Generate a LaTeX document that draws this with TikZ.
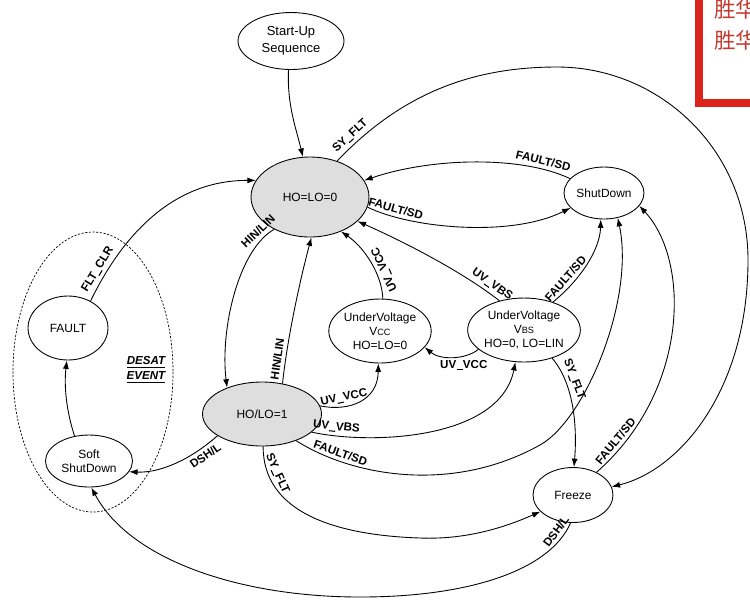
\documentclass[tikz,border=0pt]{standalone}
\usepackage{fontspec}
\setmainfont{Liberation Sans}
\newfontfamily\cjk{Noto Sans CJK SC}
\usetikzlibrary{shapes.geometric,arrows.meta}
\definecolor{boxred}{RGB}{221,36,28}
\definecolor{cjkred}{RGB}{196,58,48}
\newcommand{\smc}[1]{{\fontsize{5.2}{6}\selectfont #1}}
\newcommand{\us}{\kern0.15pt\rule[-1pt]{3.5pt}{0.6pt}\kern0.15pt}

\begin{document}
\begin{tikzpicture}[x=0.02cm,y=-0.02cm,
    etat/.style={ellipse,draw,line width=0.5pt,inner sep=0pt,align=center,font=\fontsize{6.8}{7.9}\selectfont},
    actif/.style={etat,fill=black!13},
    lab/.style={font=\bfseries\fontsize{6.6}{7.9}\selectfont,inner sep=2pt},
    fl/.style={line width=0.5pt,-{Latex[length=4.8pt,width=3.4pt]}}]
  \useasboundingbox (0,0) rectangle (750,600);
  %\draw[help lines,step=50] (0,0) grid (750,600);
  \node[etat,minimum width=2.12cm,minimum height=1.14cm,font=\fontsize{7.4}{9.4}\selectfont] (start) at (291,41) {Start-Up\\Sequence};
  \node[actif,minimum width=2.36cm,minimum height=1.6cm] (hll0) at (310,197) {HO=LO=0};
  \node[etat,minimum width=1.6cm,minimum height=1.04cm] (shut) at (604,193) {ShutDown};
  \node[etat,minimum width=1.6cm,minimum height=1.28cm] (fault) at (68,328) {FAULT};
  \node[etat,minimum width=2cm,minimum height=1.28cm] (uvcc) at (380,331) {UnderVoltage\\V\smc{CC}\\HO=LO=0};
  \node[etat,minimum width=2.16cm,minimum height=1.28cm] (uvbs) at (524,330) {UnderVoltage\\V\smc{BS}\\HO=0, LO=LIN};
  \node[actif,minimum width=2.38cm,minimum height=1.28cm] (holo1) at (262,414) {HO/LO=1};
  \node[etat,minimum width=1.74cm,minimum height=1.04cm] (soft) at (89,461) {Soft\\ShutDown};
  \node[etat,minimum width=1.6cm,minimum height=1.1cm] (freeze) at (573,495) {Freeze};
  % desat
  \draw[dash pattern=on 1.2pt off 0.9pt,line width=0.4pt] (93,372) ellipse [x radius=80,y radius=140];
  \node[lab,font=\bfseries\itshape\fontsize{6.6}{8.5}\selectfont,align=center] (desat) at (146,370) {\underline{DESAT}\\\underline{EVENT}};
  % transitions
  \draw[fl] (start.265) .. controls (287,105) and (296,128) .. (hll0.100);
  \draw[fl] (hll0.222) .. controls (238,250) and (220,330) .. (holo1.143) node[lab,pos=0.1,sloped,above] {HIN/LIN};
  \draw[fl] (holo1.56) .. controls (287,340) and (300,280) .. (hll0.-88) node[lab,pos=0.17,sloped,above] {HIN/LIN};
  \draw[fl] (hll0.-10) .. controls (410,228) and (510,238) .. (shut.204) node[lab,pos=0.17,sloped,above] {FAULT/SD};
  \draw[fl] (shut.157) .. controls (520,155) and (430,158) .. (hll0.17) node[lab,pos=0.17,sloped,above] {FAULT/SD};
  \draw[fl] (uvbs.130) .. controls (460,270) and (400,240) .. (hll0.-27) node[lab,pos=0.1,sloped,above] {UV\us VBS};
  \draw[fl] (uvcc.85) .. controls (382,275) and (365,248) .. (hll0.-48) node[lab,pos=0.35,sloped,allow upside down,below] {UV\us VCC};
  \draw[fl] (uvbs.203) .. controls (465,360) and (440,360) .. (uvcc.-20) node[lab,pos=0.3,below] {UV\us VCC};
  \draw[fl] (holo1.8) .. controls (350,412) and (378,400) .. (uvcc.-93) node[lab,pos=0.3,sloped,above] {UV\us VCC};
  \draw[fl] (holo1.-20) .. controls (370,445) and (500,440) .. (uvbs.-105) node[lab,pos=0.12,sloped,above] {UV\us VBS};
  \draw[fl] (holo1.-38) .. controls (350,475) and (450,495) .. (540,445) node[lab,pos=0.22,sloped,above] {FAULT/SD}
    .. controls (585,420) and (635,300) .. (shut.-61);
  \draw[fl] (uvbs.44) .. controls (580,280) and (600,250) .. (shut.-97) node[lab,pos=0.25,sloped,above] {FAULT/SD};
  \draw[fl] (freeze.44) .. controls (690,390) and (690,260) .. (shut.-20) node[lab,pos=0.1,sloped,above] {FAULT/SD};
  \draw[fl] (hll0.53) .. controls (400,95) and (470,67) .. (557,67) node[lab,pos=0.1,sloped,above] {SY\us FLT}
    .. controls (660,67) and (748,150) .. (748,260) .. controls (748,390) and (680,470) .. (freeze.12);
  \draw[fl] (uvbs.-45) .. controls (575,385) and (577,430) .. (freeze.88) node[lab,pos=0.26,sloped,above] {SY\us FLT};
  \draw[fl] (holo1.-88) .. controls (263,510) and (330,535) .. (420,538) node[lab,pos=0.18,sloped,above] {SY\us FLT}
    .. controls (470,540) and (510,525) .. (freeze.207);
  \draw[fl] (freeze.-95) .. controls (550,570) and (470,597) .. (360,597) node[lab,pos=0.1,sloped,above] {DSH/L}
    .. controls (240,597) and (130,560) .. (soft.-85);
  \draw[fl] (holo1.206) .. controls (190,460) and (160,473) .. (soft.-15) node[lab,pos=0.2,sloped,below] {DSH/L};
  \draw[fl] (soft.120) .. controls (66,410) and (64,385) .. (fault.-92);
  \draw[fl] (fault.50) .. controls (120,240) and (170,180) .. (hll0.163) node[lab,pos=0.15,sloped,above] {FLT\us CLR};
  % red box top right
  \begin{scope}
    \clip (0,0) rectangle (750,600);
    \draw[boxred,line width=0.16cm,fill=white] (699,-20) rectangle (790,103);
    \node[cjkred,font=\cjk\fontsize{12.2}{14}\selectfont,anchor=west,inner sep=0pt] (cn1) at (714,9) {胜华};
    \node[cjkred,font=\cjk\fontsize{12.2}{14}\selectfont,anchor=west,inner sep=0pt] (cn2) at (714,40) {胜华};
  \end{scope}
\end{tikzpicture}
\end{document}
